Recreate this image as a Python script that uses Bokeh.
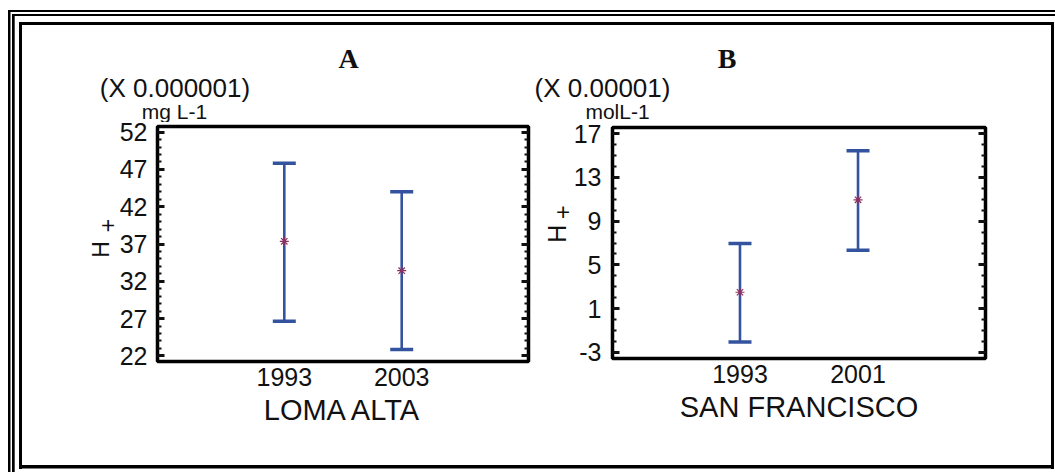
import math
import numpy as np
from bokeh.plotting import figure
from bokeh.models import Range1d, FixedTicker, LinearAxis
from bokeh.layouts import row, column
from bokeh.core.properties import value
from bokeh.embed import file_html
from bokeh.resources import INLINE

# ---------------- data ----------------
# Panel A - LOMA ALTA (X 0.000001 mg L-1)
years_A = ["1993", "2003"]
mean_A = [37.36, 33.43]
lower_A = [26.64, 22.85]
upper_A = [47.83, 44.0]
yticks_A = [22, 27, 32, 37, 42, 47, 52]

# Panel B - SAN FRANCISCO (X 0.00001 molL-1)
years_B = ["1993", "2001"]
mean_B = [2.5, 10.94]
lower_B = [-2.05, 6.33]
upper_B = [6.96, 15.43]
yticks_B = [-3, 1, 5, 9, 13, 17]

BLUE = "#34539f"
RED = "#8a3060"
SANS = "Liberation Sans"
SERIF = "Liberation Serif"
INK = "#111111"


def css_lines(rects):
    """Page border drawn as CSS background bands: (x, y, w, h) in px."""
    imgs = ", ".join(["linear-gradient(#000, #000)"] * len(rects))
    pos = ", ".join(f"{x}px {y}px" for x, y, w, h in rects)
    size = ", ".join(f"{w}px {h}px" for x, y, w, h in rects)
    return {
        "background-image": imgs,
        "background-position": pos,
        "background-size": size,
        "background-repeat": "no-repeat",
        "background-color": "white",
    }


def text_fig(w, h, items):
    """A transparent figure whose frame is the whole canvas, used for free texts."""
    f = figure(width=w, height=h, output_backend="svg", toolbar_location=None, title=None,
               x_range=Range1d(0, w), y_range=Range1d(h, 0),
               x_axis_type=None, y_axis_type=None, frame_align=False,
               min_border_left=0, min_border_right=0, min_border_top=0, min_border_bottom=0)
    f.outline_line_color = None
    f.background_fill_color = None
    f.border_fill_color = None
    for x, y, txt, size, font, style, angle in items:
        f.text(x=[x], y=[y], text=[txt], text_font=value(font),
               text_font_size=value(f"{size}px"), text_font_style=style,
               text_color=INK, text_align="center", text_baseline="middle", angle=angle)
    return f


def make_panel(width, height, years, mean, lower, upper, yticks, yrange, xlabel, borders, ystandoff):
    p = figure(width=width, height=height, output_backend="svg", toolbar_location=None, title=None,
               x_range=Range1d(-0.08, 3.08), y_range=Range1d(*yrange),
               x_axis_type=None, y_axis_type=None, frame_align=False,
               min_border_left=borders[0], min_border_right=borders[1],
               min_border_top=borders[2], min_border_bottom=borders[3])
    p.background_fill_color = "white"
    p.border_fill_color = None
    p.outline_line_color = "black"
    p.outline_line_width = 3.5

    xs = [i + 1 for i in range(len(years))]
    minor = list(np.arange(yticks[0], yticks[-1] + 1, 1))
    yticker = FixedTicker(ticks=yticks, minor_ticks=minor)

    xaxis = LinearAxis(ticker=FixedTicker(ticks=xs),
                       major_label_overrides={x: y for x, y in zip(xs, years)},
                       axis_label=xlabel)
    xaxis.axis_line_color = None
    xaxis.major_tick_in = 0
    xaxis.major_tick_out = 0
    xaxis.minor_tick_in = 0
    xaxis.minor_tick_out = 0
    xaxis.major_label_standoff = 6
    xaxis.major_label_text_font = SANS
    xaxis.major_label_text_font_size = "25px"
    xaxis.major_label_text_color = INK
    xaxis.axis_label_standoff = 5
    xaxis.axis_label_text_font = SANS
    xaxis.axis_label_text_font_size = "29px"
    xaxis.axis_label_text_font_style = "normal"
    xaxis.axis_label_text_color = INK
    p.add_layout(xaxis, "below")

    for side in ["left", "right"]:
        ax = LinearAxis(ticker=yticker)
        ax.axis_line_color = None
        ax.major_tick_in = 7
        ax.major_tick_out = 0
        ax.major_tick_line_width = 3
        ax.major_tick_line_color = INK
        ax.minor_tick_in = 4
        ax.minor_tick_out = 0
        ax.minor_tick_line_width = 2
        ax.minor_tick_line_color = INK
        if side == "left":
            ax.major_label_standoff = ystandoff
            ax.major_label_text_font = SANS
            ax.major_label_text_font_size = "25px"
            ax.major_label_text_color = INK
            ax.major_label_overrides = {t: str(t) for t in yticks}
        else:
            # mirrored ticks only, no labels
            ax.major_label_standoff = 0
            ax.major_label_text_font_size = "0px"
            ax.major_label_text_color = None
        p.add_layout(ax, side)

    p.segment(x0=xs, y0=lower, x1=xs, y1=upper, line_color=BLUE, line_width=2.6)
    p.scatter(x=xs + xs, y=list(lower) + list(upper), marker="dash", size=23,
              line_color=BLUE, line_width=3.5)
    p.scatter(x=xs, y=mean, marker="asterisk", size=9, line_color=RED, line_width=1.2)
    return p


# ---------- left half (page x 0..531) ----------
stripA = text_fig(531, 122, [
    (348, 58, "A", 28, SERIF, "bold", 0.0),
    (174.5, 87, "(X 0.000001)", 26, SANS, "normal", 0.0),
    (174, 111, "mg L-1", 21, SANS, "normal", 0.0),
])
hA = text_fig(116, 350, [
    (100.5, 127, "H", 23, SANS, "normal", math.pi / 2),
    (107, 103, "+", 23, SANS, "normal", math.pi / 2),
])
pA = make_panel(415, 350, years_A, mean_A, lower_A, upper_A, yticks_A, (21.25, 52.75),
                "LOMA ALTA", (40, 3, 4, 111), 10)

# ---------- right half (page x 531..1055) ----------
stripB = text_fig(524, 122, [
    (195.5, 58, "B", 28, SERIF, "bold", 0.0),
    (71, 87, "(X 0.00001)", 26, SANS, "normal", 0.0),
    (86, 111, "molL-1", 21, SANS, "normal", 0.0),
])
hB = text_fig(39, 350, [
    (25.7, 111.3, "H", 25, SANS, "normal", math.pi / 2),
    (30.7, 89.7, "+", 24, SANS, "normal", math.pi / 2),
])
pB = make_panel(485, 350, years_B, mean_B, lower_B, upper_B, yticks_B, (-3.55, 17.55),
                "SAN FRANCISCO", (40, 70, 5, 114), 11)

border_styles = css_lines([
    (7.5, 9.5, 2.5, 463), (7.5, 9.5, 1048, 2.0),        # outer thin lines
    (12.3, 13.5, 2.7, 459), (12.3, 13.5, 1043, 2.2),    # second thin lines
    (18.7, 21.8, 3.0, 447), (18.7, 21.8, 1035.3, 3.3),  # inner frame left / top
    (18.7, 465.3, 1035.3, 3.5), (1051, 21.8, 3.0, 447), # inner frame bottom / right
])

layout = row(
    column(stripA, row(hA, pA)),
    column(stripB, row(hB, pB)),
    styles=border_styles,
)
open("out.html", "w").write(file_html(layout, INLINE))
